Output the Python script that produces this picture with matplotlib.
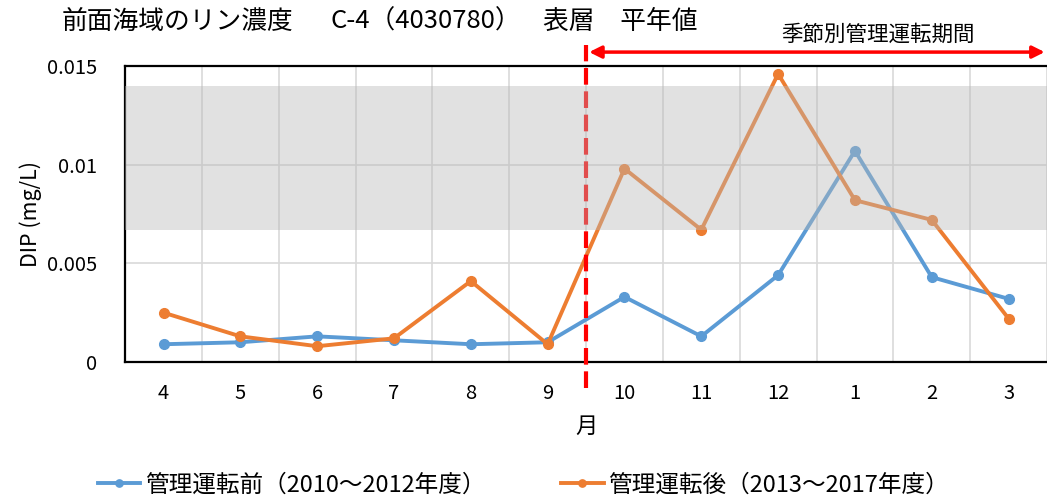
import matplotlib.pyplot as plt
import numpy as np

plt.rcParams['font.family'] = ['Noto Sans CJK JP', 'DejaVu Sans']

# 月（4月〜翌3月）
months = ['4', '5', '6', '7', '8', '9', '10', '11', '12', '1', '2', '3']
# 管理運転前（2010〜2012年度）
before = [0.0009, 0.0010, 0.0013, 0.0011, 0.0009, 0.0010,
          0.0033, 0.0013, 0.0044, 0.0107, 0.0043, 0.0032]
# 管理運転後（2013〜2017年度）
after = [0.0025, 0.0013, 0.0008, 0.0012, 0.0041, 0.0009,
         0.0098, 0.0067, 0.0146, 0.0082, 0.0072, 0.0022]
band = [0.0067, 0.014]  # 灰色の範囲
yticks = [0, 0.005, 0.01, 0.015]
ytick_labels = ['0', '0.005', '0.01', '0.015']

blue = '#5B9BD5'
orange = '#ED7D31'

fig = plt.figure(figsize=(10.47, 5.0), dpi=100)
ax = fig.add_axes([0.1195, 0.276, 0.8805, 0.592])

x = np.arange(len(months))
ax.plot(x, before, color=blue, lw=2.8, marker='o', ms=7, zorder=3,
        label='管理運転前（2010～2012年度）')
ax.plot(x, after, color=orange, lw=2.8, marker='o', ms=7, zorder=3,
        label='管理運転後（2013～2017年度）')

# 灰色の帯（線の上に半透明で重ねる）
ax.axhspan(band[0], band[1], color='#b8b8b8', alpha=0.42, lw=0, zorder=5)

ax.set_xlim(-0.5, len(months) - 0.5)
ax.set_ylim(0, 0.015)
ax.set_xticks(x)
ax.set_xticklabels(months)
ax.set_xticks(np.arange(-0.5, len(months), 1), minor=True)
ax.set_yticks(yticks)
ax.set_yticklabels(ytick_labels)
ax.tick_params(axis='x', which='both', length=0, pad=15, labelsize=14.5)
ax.tick_params(axis='y', length=0, pad=20, labelsize=14.5)

# グリッド線
ax.grid(True, which='minor', axis='x', color='#d9d9d9', lw=1.2)
ax.grid(True, which='major', axis='y', color='#d9d9d9', lw=1.2)
ax.grid(False, which='major', axis='x')
ax.set_axisbelow(True)

for s in ['left', 'bottom', 'top']:
    ax.spines[s].set_color('black')
    ax.spines[s].set_linewidth(1.6)
ax.spines['right'].set_visible(False)

ax.set_ylabel('DIP (mg/L)', fontsize=15.5, labelpad=4)
ax.set_xlabel('月', fontsize=16, labelpad=8)

# 赤い破線と矢印
tr = ax.get_xaxis_transform()
ax.plot([5.5, 5.5], [-0.088, 1.071], transform=tr, color='red', lw=3,
        ls=(0, (4, 1.6)), clip_on=False, zorder=4)
ax.annotate('', xy=(11.47, 1.047), xytext=(5.54, 1.047), xycoords=tr,
            textcoords=tr,
            arrowprops=dict(arrowstyle='<|-|>', color='red', lw=2.5,
                            mutation_scale=18, shrinkA=0, shrinkB=0))
ax.text(9.3, 1.105, '季節別管理運転期間', transform=tr, fontsize=15.5,
        ha='center', va='center')

# タイトル
fig.text(62 / 1047, 1 - 22 / 500, '前面海域のリン濃度',
         fontsize=18.5, ha='left', va='center')
fig.text(330 / 1047, 1 - 22 / 500, 'C-4（4030780）',
         fontsize=18.5, ha='left', va='center')
fig.text(543 / 1047, 1 - 22 / 500, '表層　平年値',
         fontsize=18.5, ha='left', va='center')

fig.legend(loc='lower center', ncol=2, bbox_to_anchor=(0.5, -0.035),
           frameon=False, fontsize=17, handlelength=1.8, handletextpad=0.2,
           columnspacing=3.2, markerscale=0.75)

fig.savefig('out.png', dpi=100)
